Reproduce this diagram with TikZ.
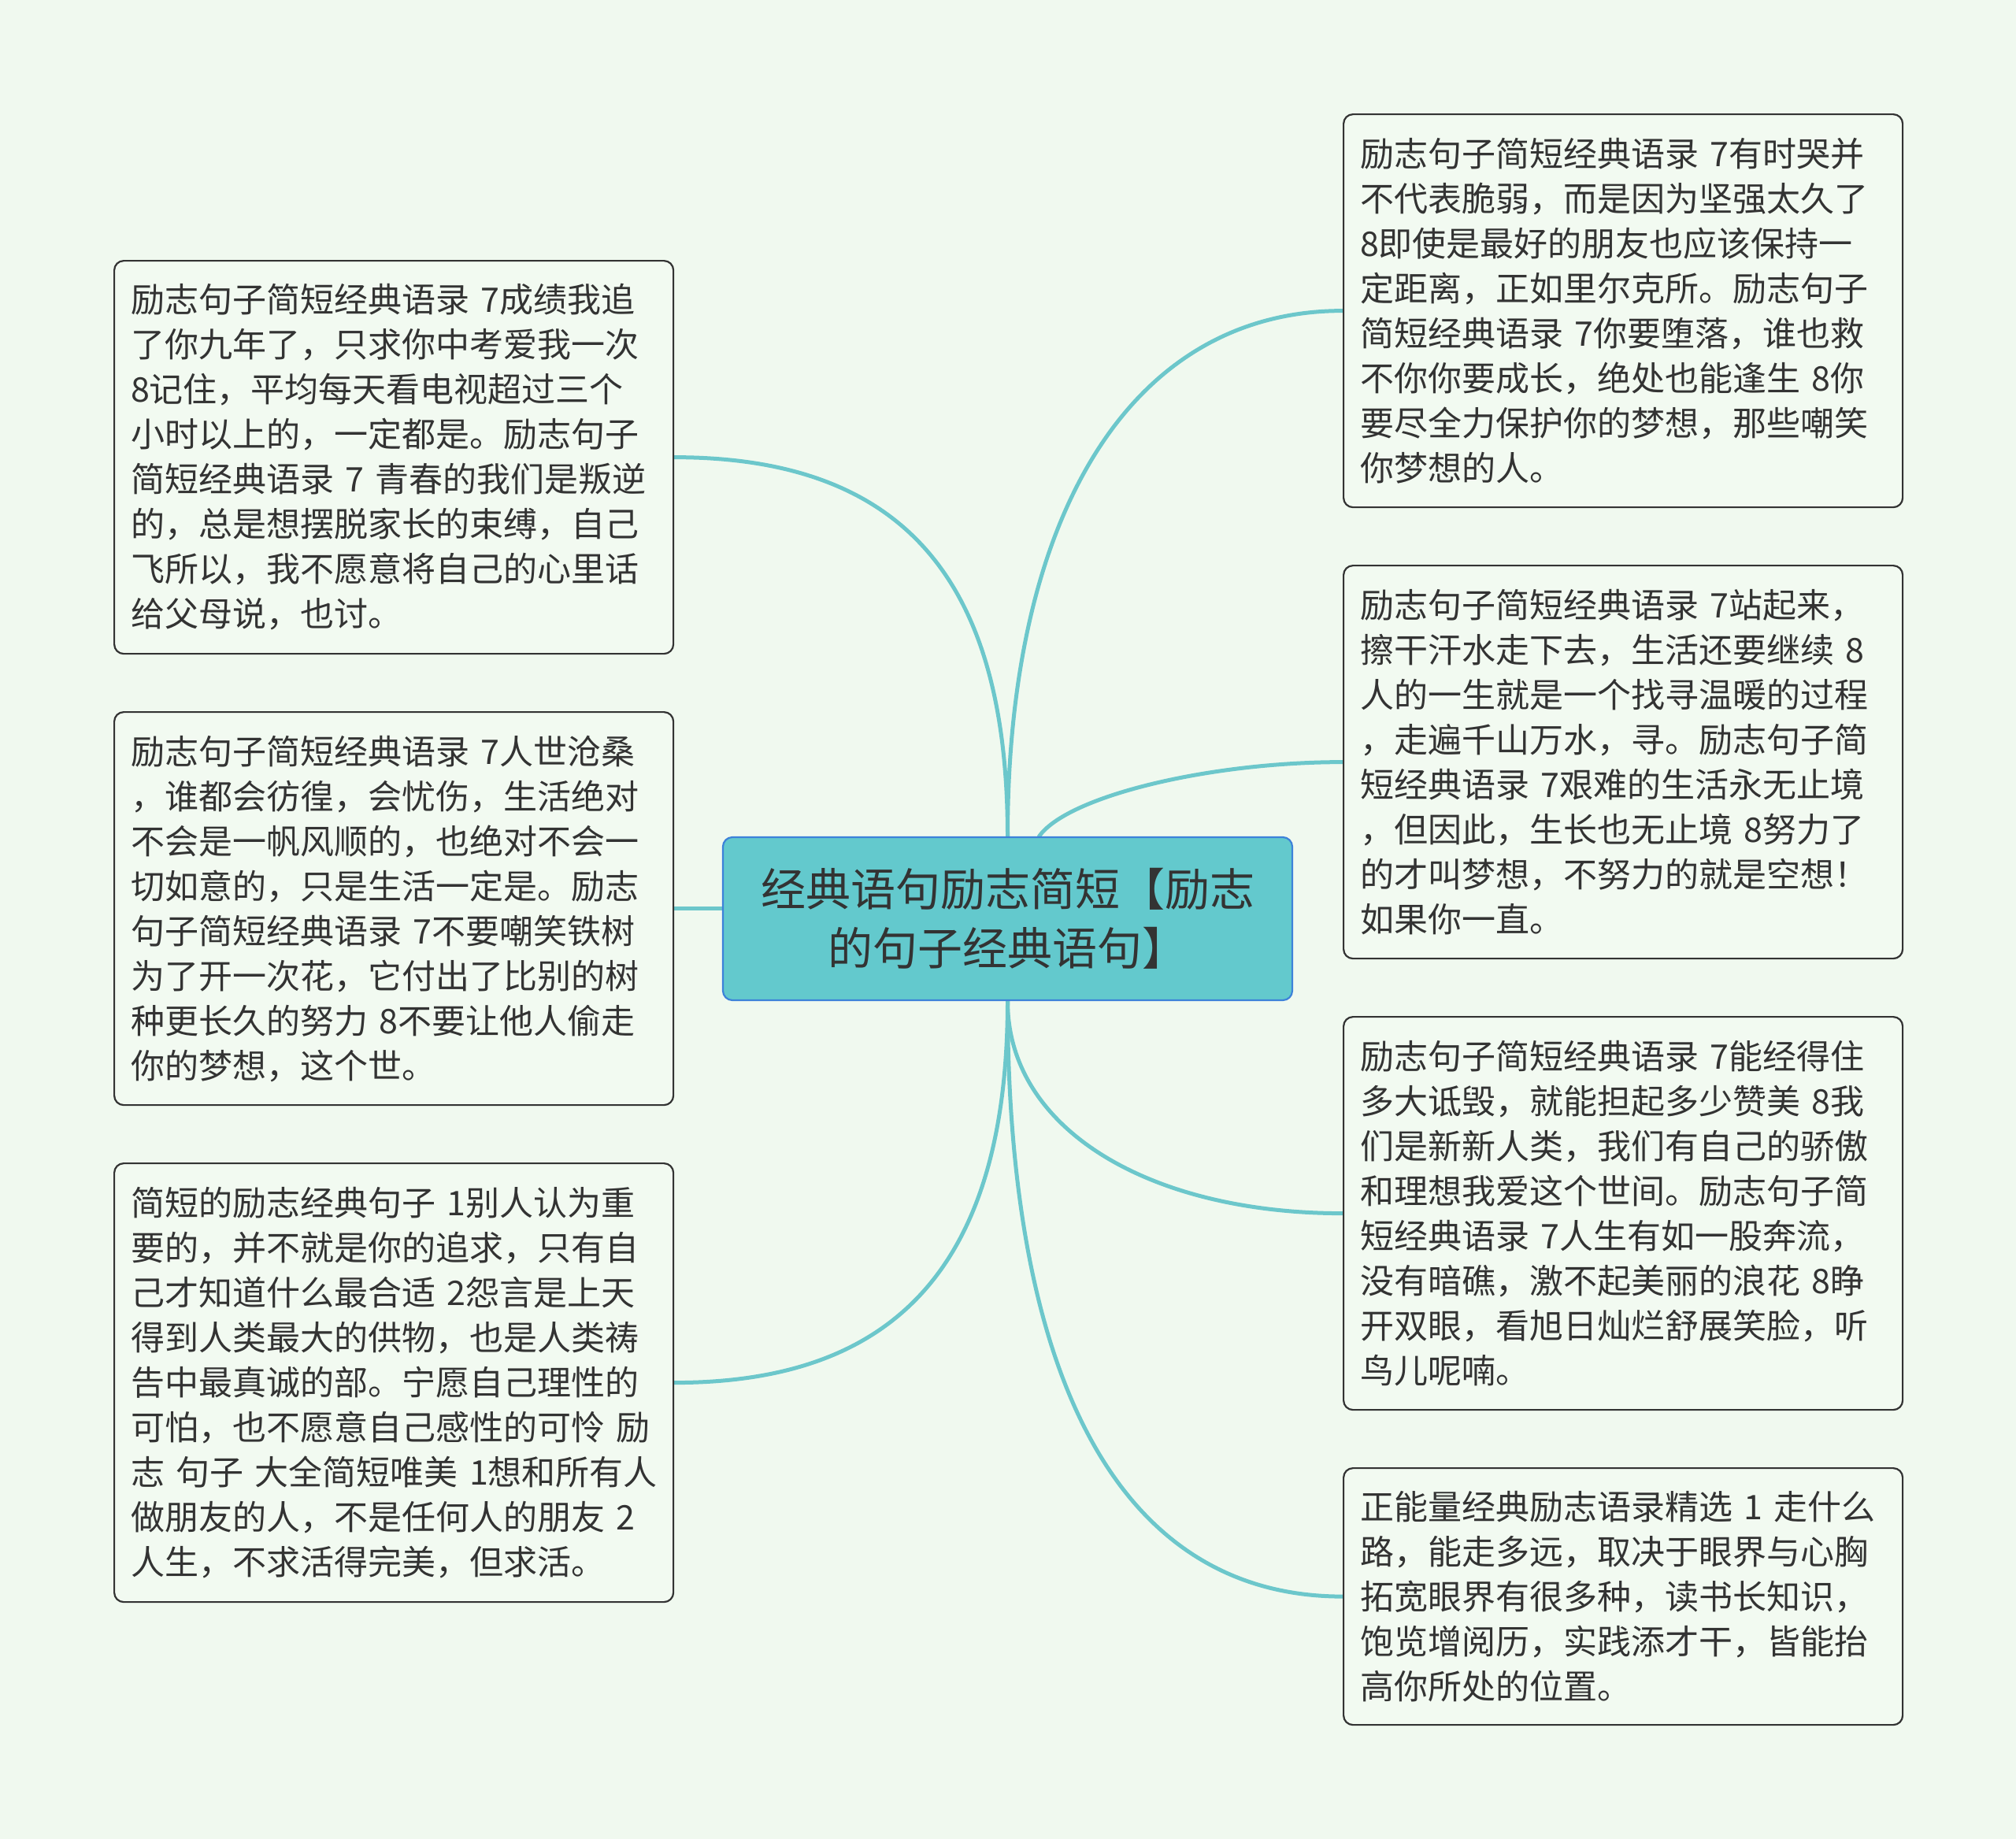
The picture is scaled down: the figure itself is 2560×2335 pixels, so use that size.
\documentclass[tikz,border=0pt]{standalone}
\usepackage{fontspec}
\setmainfont{Noto Sans CJK SC}
\usetikzlibrary{backgrounds,calc}
\definecolor{bgc}{HTML}{F0F9EF}
\definecolor{boxfill}{HTML}{F2FAF1}
\definecolor{boxline}{HTML}{333333}
\definecolor{txt}{HTML}{333333}
\definecolor{cfill}{HTML}{63C9CD}
\definecolor{cline}{HTML}{3D82D9}
\definecolor{link}{HTML}{6CC7CB}
\tikzset{
  leaf/.style={draw=boxline, fill=boxfill, line width=2.2pt, rounded corners=12pt,
    anchor=north west, inner xsep=21pt, inner ysep=0pt, text width=668pt,
    minimum height=#1, align=left, text=txt,
    font=\fontsize{43pt}{57pt}\selectfont},
  hub/.style={draw=cline, fill=cfill, line width=2.2pt, rounded corners=12pt,
    minimum width=723pt, minimum height=207pt, inner sep=0pt, align=center, text=txt,
    font=\fontsize{57pt}{75pt}\selectfont},
  conn/.style={draw=link, line width=5pt, line cap=round}
}
\begin{document}
\begin{tikzpicture}[x=1pt,y=-1pt]
\useasboundingbox (0,0) rectangle (2560,2335);
\node[hub] (C) at (1279.5,1166.5) {经典语句励志简短【励志\\的句子经典语句】};

\node[leaf=499pt] (L1) at (144,330) {励志句子简短经典语录 7成绩我追\\
了你九年了，只求你中考爱我一次\\
8记住，平均每天看电视超过三个\\
小时以上的，一定都是。励志句子\\
简短经典语录 7 青春的我们是叛逆\\
的，总是想摆脱家长的束缚，自己\\
飞所以，我不愿意将自己的心里话\\
给父母说，也讨。};

\node[leaf=499pt] (L2) at (144,903) {励志句子简短经典语录 7人世沧桑\\
，谁都会彷徨，会忧伤，生活绝对\\
不会是一帆风顺的，也绝对不会一\\
切如意的，只是生活一定是。励志\\
句子简短经典语录 7不要嘲笑铁树\\
为了开一次花，它付出了比别的树\\
种更长久的努力 8不要让他人偷走\\
你的梦想，这个世。};

\node[leaf=557pt] (L3) at (144,1476) {简短的励志经典句子 1别人认为重\\
要的，并不就是你的追求，只有自\\
己才知道什么最合适 2怨言是上天\\
得到人类最大的供物，也是人类祷\\
告中最真诚的部。宁愿自己理性的\\
可怕，也不愿意自己感性的可怜 励\\
\mbox{志 句子 大全简短唯美 1想和所有人}\\
做朋友的人，不是任何人的朋友 2\\
人生，不求活得完美，但求活。};

\node[leaf=499pt] (R1) at (1705,144) {励志句子简短经典语录 7有时哭并\\
不代表脆弱，而是因为坚强太久了\\
8即使是最好的朋友也应该保持一\\
定距离，正如里尔克所。励志句子\\
简短经典语录 7你要堕落，谁也救\\
不你你要成长，绝处也能逢生 8你\\
要尽全力保护你的梦想，那些嘲笑\\
你梦想的人。};

\node[leaf=499pt] (R2) at (1705,717) {励志句子简短经典语录 7站起来，\\
擦干汗水走下去，生活还要继续 8\\
人的一生就是一个找寻温暖的过程\\
，走遍千山万水，寻。励志句子简\\
短经典语录 7艰难的生活永无止境\\
，但因此，生长也无止境 8努力了\\
的才叫梦想，不努力的就是空想！\\
如果你一直。};

\node[leaf=499pt] (R3) at (1705,1290) {励志句子简短经典语录 7能经得住\\
多大诋毁，就能担起多少赞美 8我\\
们是新新人类，我们有自己的骄傲\\
和理想我爱这个世间。励志句子简\\
短经典语录 7人生有如一股奔流，\\
没有暗礁，激不起美丽的浪花 8睁\\
开双眼，看旭日灿烂舒展笑脸，听\\
鸟儿呢喃。};

\node[leaf=326pt] (R4) at (1705,1863) {正能量经典励志语录精选 1 走什么\\
路，能走多远，取决于眼界与心胸\\
拓宽眼界有很多种，读书长知识，\\
饱览增阅历，实践添才干，皆能抬\\
高你所处的位置。};

\begin{scope}[on background layer]
\fill[bgc] (0,0) rectangle (2560,2335);
\draw[conn] (C.north) .. controls +(0,-328) and +(289,0) .. (L1.east);
\draw[conn] (L2.east) -- (C.west |- L2.east);
\draw[conn] (C.south) .. controls +(0,362) and +(256,0) .. (L3.east);
\draw[conn] (C.north) .. controls +(0,-410) and +(-268,0) .. (R1.west);
\coordinate (c2) at ($(C.north)+(40,0)$);
\draw[conn] (c2) .. controls +(36,-51) and +(-170,0) .. (R2.west);
\draw[conn] (C.south) .. controls +(0,163) and +(-245,0) .. (R3.west);
\draw[conn] (C.south) .. controls +(0,490) and +(-278,0) .. (R4.west);
\end{scope}
\end{tikzpicture}
\end{document}
